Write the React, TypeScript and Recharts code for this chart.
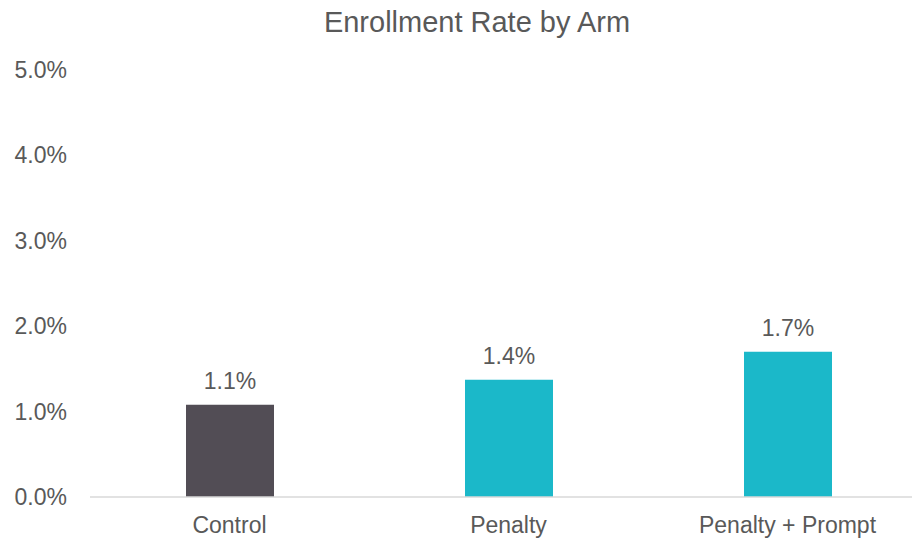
import { Bar, BarChart, Cell, LabelList, XAxis, YAxis } from 'recharts';

const arms = ['Control', 'Penalty', 'Penalty + Prompt'];
const rates = [1.08, 1.37, 1.7];
const barColors = ['#524d55', '#1bb8c9', '#1bb8c9'];
const yTicks = [0, 1, 2, 3, 4, 5];

const chartData = arms.map((arm, i) => ({ arm, rate: rates[i] }));

const FONT = "Arial, 'Liberation Sans', sans-serif";
const TEXT = '#595959';

const pct = (v: number) => `${Number(v).toFixed(1)}%`;

export default function App() {
  return (
    <div
      style={{
        position: 'absolute',
        left: 0,
        top: 0,
        width: 912,
        height: 539,
        overflow: 'hidden',
        background: '#fff',
        fontFamily: FONT,
      }}
    >
      <svg
        width={912}
        height={60}
        style={{ position: 'absolute', left: 0, top: 0 }}
      >
        <text
          x={477}
          y={32}
          textAnchor="middle"
          fill={TEXT}
          fontSize={29}
          fontFamily={FONT}
        >
          Enrollment Rate by Arm
        </text>
      </svg>
      <BarChart
        width={940}
        height={539}
        data={chartData}
        margin={{ top: 69.5, right: 13, bottom: 0, left: 0 }}
      >
        <XAxis
          dataKey="arm"
          height={42}
          tickLine={false}
          tickSize={0}
          tickMargin={20}
          axisLine={{ stroke: '#d9d9d9', strokeWidth: 1.5 }}
          tick={{ fill: TEXT, fontSize: 23, fontFamily: FONT }}
        />
        <YAxis
          width={90}
          domain={[0, 5]}
          ticks={yTicks}
          tickFormatter={pct}
          axisLine={false}
          tickLine={false}
          tickSize={0}
          tickMargin={23}
          tick={{ fill: TEXT, fontSize: 23, fontFamily: FONT }}
        />
        <Bar dataKey="rate" barSize={88} isAnimationActive={false}>
          {chartData.map((d, i) => (
            <Cell key={d.arm} fill={barColors[i]} />
          ))}
          <LabelList
            dataKey="rate"
            position="top"
            offset={16}
            formatter={(v: any) => pct(v)}
            fill={TEXT}
            fontSize={23}
            fontFamily={FONT}
          />
        </Bar>
      </BarChart>
    </div>
  );
}
